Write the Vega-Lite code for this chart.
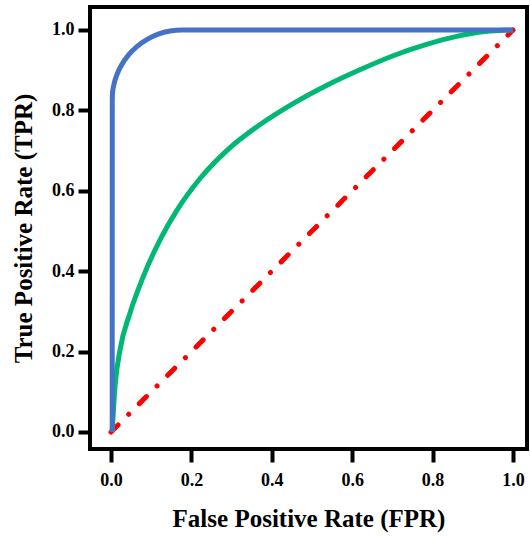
{
  "$schema": "https://vega.github.io/schema/vega-lite/v6.json",
  "width": 437,
  "height": 442,
  "autosize": "none",
  "padding": {"left": 90, "top": 7, "right": 3, "bottom": 88},
  "background": "white",
  "config": {
    "view": {"stroke": "black", "strokeWidth": 4},
    "axis": {
      "grid": false,
      "domain": false,
      "tickColor": "black",
      "tickWidth": 4,
      "labelFont": "Liberation Serif",
      "labelFontWeight": "bold",
      "labelFontSize": 18,
      "labelColor": "black",
      "titleFont": "Liberation Serif",
      "titleFontWeight": "bold",
      "titleFontSize": 25,
      "titleColor": "black"
    }
  },
  "data": {
    "values": [
      {"model": "blue", "fpr": 0.003, "tpr": 0.0},
      {"model": "blue", "fpr": 0.0031, "tpr": 0.5},
      {"model": "blue", "fpr": 0.0032, "tpr": 0.826},
      {"model": "blue", "fpr": 0.0037, "tpr": 0.8412},
      {"model": "blue", "fpr": 0.0056, "tpr": 0.856},
      {"model": "blue", "fpr": 0.0089, "tpr": 0.871},
      {"model": "blue", "fpr": 0.0135, "tpr": 0.8855},
      {"model": "blue", "fpr": 0.0193, "tpr": 0.8995},
      {"model": "blue", "fpr": 0.0263, "tpr": 0.913},
      {"model": "blue", "fpr": 0.0437, "tpr": 0.938},
      {"model": "blue", "fpr": 0.0651, "tpr": 0.9593},
      {"model": "blue", "fpr": 0.09, "tpr": 0.9767},
      {"model": "blue", "fpr": 0.1175, "tpr": 0.9896},
      {"model": "blue", "fpr": 0.1467, "tpr": 0.9974},
      {"model": "blue", "fpr": 0.177, "tpr": 1.0},
      {"model": "blue", "fpr": 0.4, "tpr": 1.0},
      {"model": "blue", "fpr": 0.7, "tpr": 1.0},
      {"model": "blue", "fpr": 1.0, "tpr": 1.0},
      {"model": "green", "fpr": 0.003, "tpr": 0.0},
      {"model": "green", "fpr": 0.01, "tpr": 0.113},
      {"model": "green", "fpr": 0.0224, "tpr": 0.204},
      {"model": "green", "fpr": 0.047, "tpr": 0.295},
      {"model": "green", "fpr": 0.08, "tpr": 0.386},
      {"model": "green", "fpr": 0.122, "tpr": 0.478},
      {"model": "green", "fpr": 0.163, "tpr": 0.55},
      {"model": "green", "fpr": 0.221, "tpr": 0.63},
      {"model": "green", "fpr": 0.288, "tpr": 0.7},
      {"model": "green", "fpr": 0.371, "tpr": 0.765},
      {"model": "green", "fpr": 0.453, "tpr": 0.817},
      {"model": "green", "fpr": 0.536, "tpr": 0.862},
      {"model": "green", "fpr": 0.619, "tpr": 0.901},
      {"model": "green", "fpr": 0.702, "tpr": 0.936},
      {"model": "green", "fpr": 0.785, "tpr": 0.964},
      {"model": "green", "fpr": 0.86, "tpr": 0.984},
      {"model": "green", "fpr": 0.93, "tpr": 0.996},
      {"model": "green", "fpr": 1.0, "tpr": 1.0},
      {"model": "random", "fpr": 0.0, "tpr": 0.0},
      {"model": "random", "fpr": 1.0, "tpr": 1.0}
    ]
  },
  "encoding": {
    "x": {
      "field": "fpr",
      "type": "quantitative",
      "scale": {"domain": [-0.0522, 1.0348], "nice": false, "zero": false},
      "axis": {
        "values": [0, 0.2, 0.4, 0.6, 0.8, 1.0],
        "format": ".1f",
        "tickSize": 13,
        "labelPadding": 9,
        "title": "False Positive Rate (FPR)",
        "titlePadding": 17
      }
    },
    "y": {
      "field": "tpr",
      "type": "quantitative",
      "scale": {"domain": [-0.0423, 1.0572], "nice": false, "zero": false},
      "axis": {
        "values": [0, 0.2, 0.4, 0.6, 0.8, 1.0],
        "format": ".1f",
        "tickSize": 12,
        "labelPadding": 4,
        "title": "True Positive Rate (TPR)",
        "titlePadding": 15
      }
    }
  },
  "layer": [
    {
      "transform": [{"filter": "datum.model === 'random'"}],
      "mark": {"type": "line", "color": "#ff0000", "strokeWidth": 5, "strokeCap": "round", "strokeDash": [10, 15, 0.1, 15]}
    },
    {
      "transform": [{"filter": "datum.model === 'green'"}],
      "mark": {"type": "line", "color": "#00b874", "strokeWidth": 5, "interpolate": "monotone"}
    },
    {
      "transform": [{"filter": "datum.model === 'blue'"}],
      "mark": {"type": "line", "color": "#4472c4", "strokeWidth": 5, "interpolate": "monotone"}
    }
  ]
}
